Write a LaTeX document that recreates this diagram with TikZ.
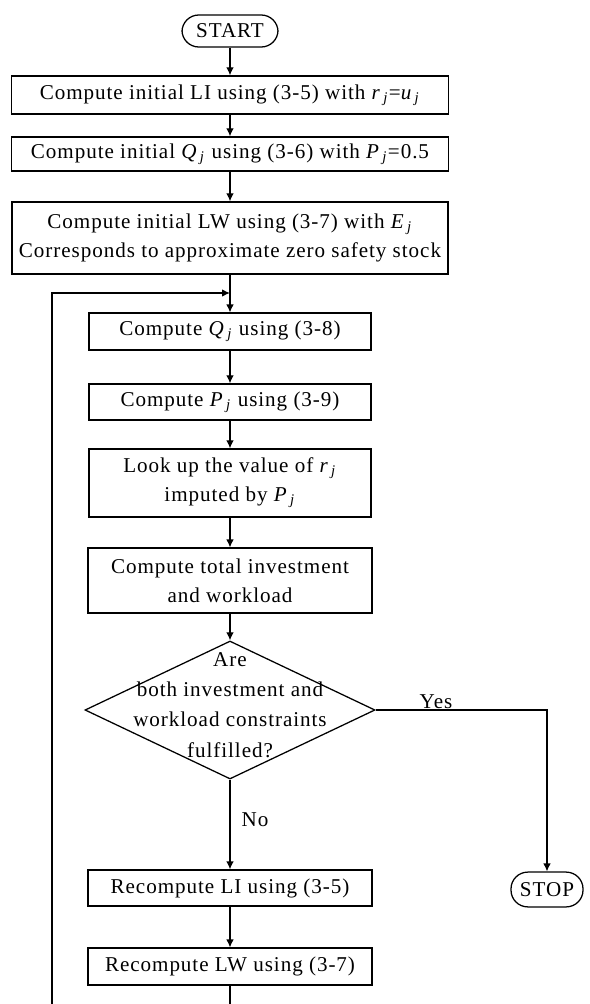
\documentclass[tikz,border=0pt]{standalone}
\usepackage{fontspec}
\setmainfont{Liberation Serif}[LetterSpace=4.5]
\usetikzlibrary{arrows.meta,shapes.geometric}
\newcommand{\varj}[1]{\textit{#1}\textsubscript{\,\textit{j}}}

\begin{document}
\begin{tikzpicture}[x=0.025cm,y=-0.025cm,
  font=\fontsize{15}{20.6}\selectfont,
  stepbox/.style={draw,line width=0.9pt,inner sep=0pt,align=center},
  termbox/.style={draw,line width=0.9pt,inner sep=0pt,rounded corners=0.42cm},
  testbox/.style={draw,line width=0.9pt,diamond,inner sep=0pt,minimum width=7.25cm,minimum height=3.45cm},
  flow/.style={line width=0.9pt,-{Latex[length=2mm,width=1.9mm]}},
  plain/.style={line width=0.9pt}]
\useasboundingbox (0,0) rectangle (590,1004);

% column of steps
\node[termbox,minimum width=2.4cm,minimum height=0.8cm] (start) at (230,31) {START};
\node[stepbox,minimum width=10.93cm,minimum height=0.95cm] (li0) at (230,95)
  {Compute initial LI using (3-5) with \varj{r}=\varj{u}};
\node[stepbox,minimum width=10.93cm,minimum height=0.85cm] (q0) at (230,154)
  {Compute initial \varj{Q} using (3-6) with \varj{P}=0.5};
\node[stepbox,minimum width=10.9cm,minimum height=1.8cm] (lw0) at (230,238)
  {Compute initial LW using (3-7) with \varj{E}\\ Corresponds to approximate zero safety stock};
\coordinate (join) at (230,293);
\node[stepbox,minimum width=7.05cm,minimum height=0.92cm] (q) at (230,331.5)
  {Compute \varj{Q} using (3-8)};
\node[stepbox,minimum width=7.05cm,minimum height=0.9cm] (p) at (230,402)
  {Compute \varj{P} using (3-9)};
\node[stepbox,minimum width=7.05cm,minimum height=1.7cm] (r) at (230,483)
  {Look up the value of \varj{r}\\ imputed by \varj{P}};
\node[stepbox,minimum width=7.1cm,minimum height=1.62cm] (tot) at (230,580.5)
  {Compute total investment\\ and workload};
\node[testbox] (chk) at (230,710) {};
\node[align=center,font=\fontsize{15}{21.5}\selectfont] (chktxt) at (230,705)
  {Are\\ both investment and\\ workload constraints\\ fulfilled?};
\node[stepbox,minimum width=7.1cm,minimum height=0.9cm] (rli) at (230,888)
  {Recompute LI using (3-5)};
\node[stepbox,minimum width=7.1cm,minimum height=0.92cm] (rlw) at (230,966.5)
  {Recompute LW using (3-7)};
\node[termbox,minimum width=1.8cm,minimum height=0.87cm] (stop) at (547,889.5) {STOP};

\node (yes) at (436,702) {Yes};
\node (no) at (255,820) {No};

\coordinate (loopbot) at (52,1004);
\coordinate (endbot) at (230,1004);

% connectors
\draw[flow] (start) -- (li0);
\draw[flow] (li0) -- (q0);
\draw[flow] (q0) -- (lw0);
\draw[flow] (lw0) -- (q);
\draw[flow] (q) -- (p);
\draw[flow] (p) -- (r);
\draw[flow] (r) -- (tot);
\draw[flow] (tot) -- (chk);
\draw[flow] (chk.east) -| (stop);
\draw[flow] (chk) -- (rli);
\draw[flow] (rli) -- (rlw);
\draw[plain] (rlw) -- (endbot);
\draw[flow] (loopbot) |- (join);

\end{tikzpicture}
\end{document}
